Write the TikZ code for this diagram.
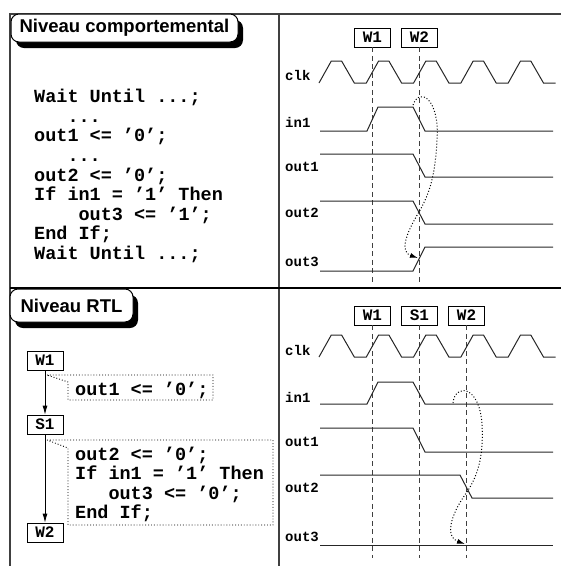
\documentclass[tikz,border=0pt]{standalone}
\usepackage{fontspec}
\setmainfont{Liberation Sans}
\setmonofont{Liberation Mono}
\usepackage{tikz}
\usetikzlibrary{arrows.meta, shadows}

\begin{document}
\begin{tikzpicture}[
    x=1pt, y=-1pt,
    frame/.style={black!75, line width=1.3pt},
    tab/.style={draw, line width=1pt, fill=white, rounded corners=8pt, inner sep=0pt, font=\fontsize{18.5}{20}\selectfont\bfseries, drop shadow={shadow xshift=5pt, shadow yshift=-6pt, opacity=1, fill=black}},
    state/.style={draw, line width=0.8pt, fill=white, minimum width=36pt, minimum height=19pt, inner sep=0pt, font=\fontsize{16}{18}\selectfont\ttfamily\bfseries},
    code/.style={anchor=west, inner sep=0pt, align=left, font=\fontsize{18.5}{19.6}\selectfont\ttfamily\bfseries},
    sig/.style={anchor=west, inner sep=0pt, font=\fontsize{14}{16}\selectfont\ttfamily\bfseries},
    wave/.style={line width=1pt, black!85},
    marker/.style={dash pattern=on 5pt off 3.5pt, line width=1pt, black!75},
    causal/.style={dotted, line width=1pt, -{Latex[length=8pt, width=5pt]}},
    arrow/.style={-{Latex[length=9pt, width=5pt]}, line width=0.8pt},
    callout/.style={dotted, line width=0.9pt}
]
\useasboundingbox (0,0) rectangle (561,566);

% Frame
\draw[frame] (10,566) -- (10,14) -- (561,14);
\draw[frame] (279,14) -- (279,566);
\draw[frame, black] (10,288) -- (561,288);

% Tabs
\node[tab, minimum width=227pt, minimum height=28pt] at (124.5,28) (behav) {Niveau comportemental};
\node[tab, minimum width=123pt, minimum height=33pt] at (71.5,305.5) (rtl) {Niveau RTL};

% Top left: behavioural code
\node[code] at (34,176) (bcode) {Wait Until ...;\\
\hphantom{xxx}...\\
out1 <= ’0’;\\
\hphantom{xxx}...\\
out2 <= ’0’;\\
If in1 = ’1’ Then\\
\hphantom{xxxx}out3 <= ’1’;\\
End If;\\
Wait Until ...;};

% Top right: waits and signals
\node[state] at (372.5,37.5) (tW1) {W1};
\node[state] at (419.5,37.5) (tW2) {W2};
\coordinate (tW1end) at (372.5,283);
\coordinate (tW2end) at (419.5,283);
\draw[marker] (tW1.south) -- (tW1end);
\draw[marker] (tW2.south) -- (tW2end);

\node[sig] at (285,75) (tclk) {clk};
\node[sig] at (285,122) (tin) {in1};
\node[sig] at (285,167) (tout1) {out1};
\node[sig] at (285,213) (tout2) {out2};
\node[sig] at (285,262) (tout3) {out3};

\draw[wave] (319,83) \foreach \k in {0,...,4} { -- ++(12.3,-22) -- ++(10.3,0) -- ++(12.7,22) -- ++(12,0) };
\draw[wave] (320,131) -- (367,131) -- (378,107) -- (413,107) -- (425,131) -- (553,131);
\draw[wave] (320,154) -- (413,154) -- (425,177) -- (553,177);
\draw[wave] (320,201) -- (413,201) -- (425,224) -- (553,224);
\draw[wave] (320,271) -- (413,271) -- (425,247) -- (553,247);

\coordinate (tfrom) at (413,105);
\coordinate (tto) at (418,258);
\draw[causal] (tfrom) .. controls (420,86) and (440,100) .. (437,140) .. controls (435,180) and (428,196) .. (419,212) .. controls (405,235) and (400,252) .. (tto);

% Bottom left: state graph
\node[state] at (45,360.5) (fW1) {W1};
\node[state] at (45,424.5) (fS1) {S1};
\node[state] at (45,532.5) (fW2) {W2};
\draw[arrow] (fW1) -- (fS1);
\draw[arrow] (fS1) -- (fW2);

\draw[callout] (47,375) -- (213,375) -- (213,400) -- (68,400) -- (68,382) -- cycle;
\node[code] at (75,390) (act1) {out1 <= ’0’;};
\draw[callout] (47,440) -- (273,440) -- (273,525) -- (68,525) -- (68,448) -- cycle;
\node[code, font=\fontsize{18.5}{19.3}\selectfont\ttfamily\bfseries] at (75,484.5) (act2) {out2 <= ’0’;\\
If in1 = ’1’ Then\\
\hphantom{xxx}out3 <= ’0’;\\
End If;};

% Bottom right: states and signals
\node[state] at (372.5,315.5) (rW1) {W1};
\node[state] at (419.5,315.5) (rS1) {S1};
\node[state] at (466.5,315.5) (rW2) {W2};
\coordinate (rW1end) at (372.5,558);
\coordinate (rS1end) at (419.5,558);
\coordinate (rW2end) at (466.5,558);
\draw[marker] (rW1.south) -- (rW1end);
\draw[marker] (rS1.south) -- (rS1end);
\draw[marker] (rW2.south) -- (rW2end);

\node[sig] at (285,350) (rclk) {clk};
\node[sig] at (285,397) (rin) {in1};
\node[sig] at (285,442) (rout1) {out1};
\node[sig] at (285,488) (rout2) {out2};
\node[sig] at (285,537) (rout3) {out3};

\draw[wave] (319,357) \foreach \k in {0,...,4} { -- ++(12.3,-22) -- ++(10.3,0) -- ++(12.7,22) -- ++(12,0) };
\draw[wave] (320,404) -- (367,404) -- (378,382) -- (413,382) -- (425,404) -- (553,404);
\draw[wave] (320,428) -- (413,428) -- (425,452) -- (553,452);
\draw[wave] (320,475) -- (460,475) -- (472,498) -- (553,498);
\draw[wave] (320,545) -- (553,545);

\coordinate (rfrom) at (453,403);
\coordinate (rto) at (465,544);
\draw[causal] (rfrom) .. controls (455,383) and (480,385) .. (482,425) .. controls (484,460) and (476,478) .. (467,492) .. controls (450,515) and (445,537) .. (rto);

\end{tikzpicture}
\end{document}
